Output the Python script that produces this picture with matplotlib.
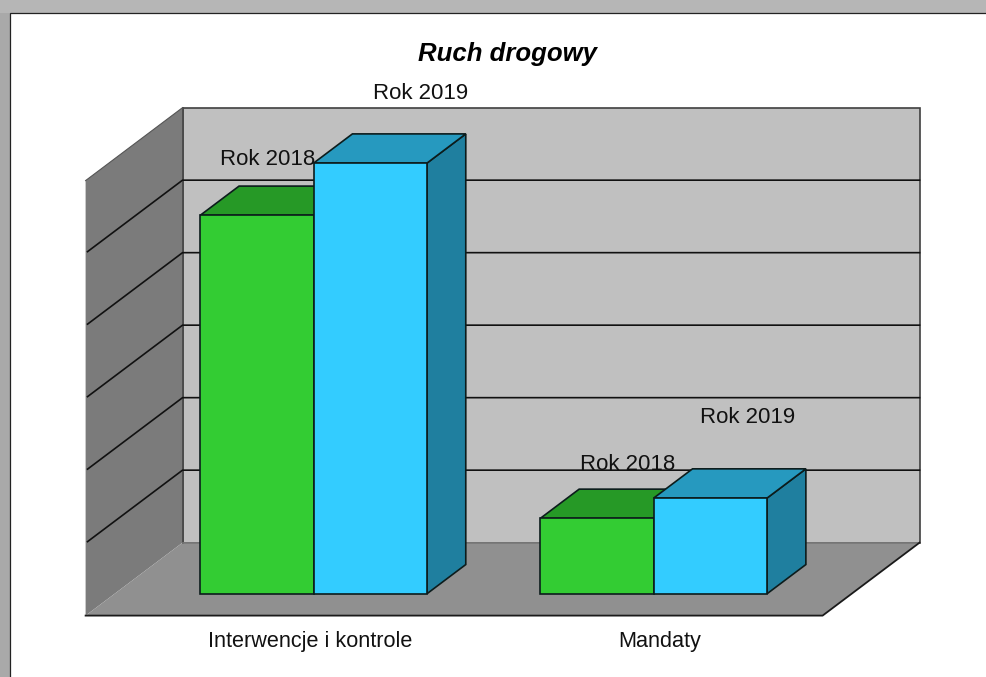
import matplotlib
matplotlib.use("Agg")
import matplotlib.pyplot as plt
from matplotlib.patches import Rectangle

categories = ["Interwencje i kontrole", "Mandaty"]
series_names = ["Rok 2018", "Rok 2019"]
rok_2018 = [261, 52]
rok_2019 = [297, 66]
y_ticks = [0, 50, 100, 150, 200, 250, 300]

W, H = 987, 677
plt.rcParams["font.family"] = ["Liberation Sans", "DejaVu Sans"]

fig = plt.figure(figsize=(W / 100, H / 100), dpi=100, facecolor="#a9a9a9")

# window area around the chart
fig.patches.append(Rectangle((0, (H - 13) / H), 1, 13 / H, transform=fig.transFigure,
                             facecolor="#b6b6b6", edgecolor="none", zorder=-2))
fig.patches.append(Rectangle((10 / W, -0.01), 1.0, (H - 13) / H + 0.01, transform=fig.transFigure,
                             facecolor="white", edgecolor="#222222", linewidth=0.9, zorder=-1))

# the axes is the front plane of the 3d box
ax = fig.add_axes([85.6 / W, (H - 615.6) / H, (822 - 85) / W, 435 / H])
ax.set_xlim(-0.585, 1.582)
ax.set_ylim(0, 300)
ax.axis("off")

# oblique shift of full depth, in data units
DX = 0.285
DY = 50.3
BAR_W = 1 / 3
D_FRONT = 0.3
D_BACK = 0.7


def pt(x, d, v):
    return x + d * DX, v + d * DY


def face(points, color, edge, lw=1.2, z=2):
    xs = [p[0] for p in points]
    ys = [p[1] for p in points]
    ax.fill(xs, ys, facecolor=color, edgecolor=edge, linewidth=lw, zorder=z,
            clip_on=False, joinstyle="miter")


x_min, x_max = ax.get_xlim()
top = y_ticks[-1]

# back wall, side wall, floor
face([pt(x_min, 1, 0), pt(x_max, 1, 0), pt(x_max, 1, top), pt(x_min, 1, top)], "#c0c0c0", "#404040")
face([pt(x_min, 0, 0), pt(x_min, 1, 0), pt(x_min, 1, top), pt(x_min, 0, top)], "#7b7b7b", "none", lw=0)
face([pt(x_min, 0, 0), pt(x_max, 0, 0), pt(x_max, 1, 0), pt(x_min, 1, 0)], "#909090", "none", lw=0)

# wall edges
ax.plot(*zip(pt(x_min, 1, 0), pt(x_min, 1, top)), color="#4a4a4a", lw=1.3, zorder=3, clip_on=False)
ax.plot(*zip(pt(x_min, 1, 0), pt(x_max, 1, 0)), color="#787878", lw=1.2, zorder=3, clip_on=False)
ax.plot(*zip(pt(x_min, 0, 0), pt(x_max, 0, 0), pt(x_max, 1, 0)), color="#1a1a1a", lw=1.3, zorder=3,
        clip_on=False)
ax.plot(*zip(pt(x_min, 0, top), pt(x_min, 1, top)), color="#555555", lw=0.8, zorder=3, clip_on=False)

# labels above the bars, pixels from the top of the front face
label_offsets = [[(11, 56), (31, 54)], [(50, 70), (37, 81)]]
series = [rok_2018, rok_2019]
shifts = [-BAR_W, 0]
colors = [("#33cc33", "#269926", "#1f7f1f"), ("#33ccff", "#2699bf", "#1f7f9f")]

for s, values in enumerate(series):
    for i, v in enumerate(values):
        x = i + shifts[s] + BAR_W / 2
        ax.annotate(series_names[s], pt(x, D_FRONT, v), xytext=label_offsets[s][i],
                    textcoords="offset pixels", ha="center", va="center", fontsize=16,
                    color="#111111", zorder=4, annotation_clip=False)

# grid lines
for t in y_ticks[1:-1]:
    ax.plot(*zip(pt(x_min, 0.02, t), pt(x_min, 1, t), pt(x_max, 1, t)), color="#111111", lw=1.2,
            zorder=5, clip_on=False)

# bars
z = 6
for i in range(len(categories)):
    for s, values in enumerate(series):
        v = values[i]
        x0 = i + shifts[s]
        x1 = x0 + BAR_W
        front, roof, side = colors[s]
        face([pt(x1, D_FRONT, 0), pt(x1, D_BACK, 0), pt(x1, D_BACK, v), pt(x1, D_FRONT, v)], side,
             "#0c1c1c", z=z)
        face([pt(x0, D_FRONT, v), pt(x1, D_FRONT, v), pt(x1, D_BACK, v), pt(x0, D_BACK, v)], roof,
             "#0c1c1c", z=z)
        face([pt(x0, D_FRONT, 0), pt(x1, D_FRONT, 0), pt(x1, D_FRONT, v), pt(x0, D_FRONT, v)], front,
             "#0c1c1c", z=z)
        z += 1

label_shift = [0.074, 0.104]
for i, name in enumerate(categories):
    ax.text(i + label_shift[i], -18, name, ha="center", va="center", fontsize=15.6, color="#111111",
            clip_on=False)

fig.text(507 / W, (H - 54) / H, "Ruch drogowy", ha="center", va="center", fontsize=18.5,
         fontweight="bold", fontstyle="italic", color="black")

fig.savefig("out.png", dpi=100, facecolor=fig.get_facecolor())
